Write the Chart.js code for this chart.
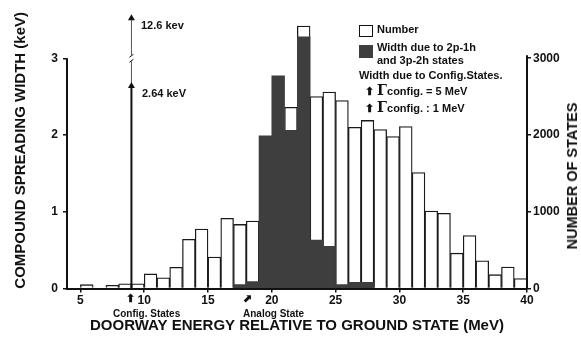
<!DOCTYPE html>
<html>
<head>
  <title>Doorway energy histogram</title>
  <script src="https://cdn.jsdelivr.net/npm/chart.js"></script>
  <style>
    body {
      margin: 0;
      background-color: #ffffff;
    }
    .wrap {
      position: relative;
      width: 581px;
      height: 347px;
      font-family: 'Liberation Sans', Arial, sans-serif;
      color: #111;
    }
    .ann {
      position: absolute;
      font-weight: bold;
      font-size: 11px;
      line-height: 12px;
      white-space: nowrap;
    }
    .small {
      font-size: 10px;
    }
    .box {
      position: absolute;
      width: 14px;
      height: 12px;
      box-sizing: border-box;
    }
    .gamma {
      font-size: 14px;
      font-family: 'DejaVu Serif', serif;
    }
    .rtitle {
      position: absolute;
      font-weight: bold;
      font-size: 14.5px;
      white-space: nowrap;
      transform: translate(-50%, -50%) rotate(-90deg);
    }
  </style>
</head>
<body>
  <div class="wrap">
    <canvas id="myChart" width="581" height="347"></canvas>

    <div class="ann" style="left:141px; top:19px;">12.6 kev</div>
    <div class="ann" style="left:142px; top:87px;">2.64 keV</div>

    <div class="box" style="left:359px; top:25px; border:1px solid #111; background:#fff;"></div>
    <div class="ann" style="left:377px; top:23px;">Number</div>
    <div class="box" style="left:359px; top:45px; height:13px; background:#3e3e3e;"></div>
    <div class="ann" style="left:377px; top:41px;">Width due to 2p-1h</div>
    <div class="ann" style="left:377px; top:54px;">and 3p-2h states</div>
    <div class="ann" style="left:359px; top:69px;">Width due to Config.States.</div>
    <div class="ann" style="left:365px; top:84px;">&#11014; <span class="gamma">&Gamma;</span>config. = 5 MeV</div>
    <div class="ann" style="left:365px; top:101px;">&#11014; <span class="gamma">&Gamma;</span>config. : 1 MeV</div>

    <div class="ann" style="left:126px; top:292px;">&#11014;</div>
    <div class="ann" style="left:243px; top:292px;">&#11016;</div>
    <div class="ann small" style="left:113px; top:308px;">Config. States</div>
    <div class="ann small" style="left:243px; top:308px;">Analog State</div>

    <div class="rtitle" style="left:572px; top:176px;">NUMBER OF STATES</div>
  </div>

  <script>
    // 1 MeV bins, value = lower edge of the bin
    const binStarts = [5, 6, 7, 8, 9, 10, 11, 12, 13, 14, 15, 16, 17, 18, 19, 20, 21, 22,
                       23, 24, 25, 26, 27, 28, 29, 30, 31, 32, 33, 34, 35, 36, 37, 38, 39];

    // number of states per bin (right axis). null = hidden behind the dark bars
    const numberOfStates = [50, null, 40, 60, 60, 190, 140, 275, 640, 775, 410, 915, 835, 880, null, null, 2360, 3420,
                            2500, 2560, 2450, 2100, 2190, 2070, 1980, 2110, 1510, 1010, 980, 460, 690, 360, 180, 280, 130];

    // width due to 2p-1h and 3p-2h states (keV, left axis)
    const widthBins = [17, 18, 19, 20, 21, 22, 23, 24, 25, 26, 27];
    const widthKeV = [0.05, 0.09, 1.99, 2.77, 2.06, 3.28, 0.63, 0.55, 0.05, 0.08, 0.08];

    // config. states arrow (keV); the 12.6 keV one sits above an axis break
    const configEnergy = 9;
    const configLow = [0, 2.64];
    const configHigh = [2.64, 2.96, null, 3.04, 3.52];

    const xTicks = [5, 10, 15, 20, 25, 30, 35, 40];
    const leftTicks = [0, 1, 2, 3];
    const rightTicks = [0, 1000, 2000, 3000];

    const font = 'Liberation Sans';

    // axis lines that stop at the top tick, like the figure
    const axisLines = {
      id: 'axisLines',
      afterDraw(chart) {
        const { ctx, scales: { x, y, y2 } } = chart;
        ctx.save();
        ctx.strokeStyle = '#111';
        ctx.lineWidth = 2;
        ctx.beginPath();
        ctx.moveTo(x.left, y.getPixelForValue(0));
        ctx.lineTo(x.left, y.getPixelForValue(3));
        ctx.moveTo(x.right, y2.getPixelForValue(0));
        ctx.lineTo(x.right, y2.getPixelForValue(3000) - 3);
        ctx.stroke();
        // little break mark on the config arrow
        const bx = x.getPixelForValue(configEnergy);
        const by = y.getPixelForValue(3);
        ctx.lineWidth = 1;
        ctx.beginPath();
        ctx.moveTo(bx - 2, by + 4);
        ctx.lineTo(bx + 2, by + 1);
        ctx.moveTo(bx - 2, by - 1);
        ctx.lineTo(bx + 2, by - 4);
        ctx.stroke();
        ctx.restore();
      }
    };

    new Chart(document.getElementById('myChart').getContext('2d'), {
      type: 'bar',
      data: {
        datasets: [
          {
            type: 'line',
            label: 'Config 1',
            data: configLow.map(v => ({ x: configEnergy, y: v })),
            borderColor: '#111',
            borderWidth: 2,
            pointStyle: 'triangle',
            pointRadius: [0, 4],
            pointBackgroundColor: '#111',
            pointBorderWidth: 0,
            order: 0
          },
          {
            type: 'line',
            label: 'Config 2',
            data: configHigh.map(v => ({ x: configEnergy, y: v })),
            borderColor: '#555',
            borderWidth: 1,
            spanGaps: false,
            pointStyle: 'triangle',
            pointRadius: [0, 0, 0, 0, 4],
            pointBackgroundColor: '#111',
            pointBorderWidth: 0,
            order: 0
          },
          {
            label: 'Width',
            data: widthBins.map((b, i) => ({ x: b + 0.5, y: widthKeV[i] })),
            backgroundColor: '#3e3e3e',
            borderWidth: 0,
            grouped: false,
            barPercentage: 1,
            categoryPercentage: 1,
            yAxisID: 'y',
            order: 1
          },
          {
            label: 'Number',
            data: binStarts.map((b, i) => ({ x: b + 0.5, y: numberOfStates[i] })),
            backgroundColor: '#ffffff',
            borderColor: '#1a1a1a',
            borderWidth: 1.3,
            grouped: false,
            barPercentage: 1,
            categoryPercentage: 1,
            yAxisID: 'y2',
            order: 2
          }
        ]
      },
      options: {
        responsive: false,
        animation: false,
        layout: { padding: { top: 10, left: 0, right: 0, bottom: 0 } },
        plugins: { legend: { display: false }, tooltip: { enabled: false } },
        scales: {
          x: {
            type: 'linear',
            min: 3.95,
            max: 40,
            offset: false,
            afterBuildTicks: s => { s.ticks = xTicks.map(v => ({ value: v })); },
            afterFit: s => { s.height = 58.5; },
            grid: { offset: false, drawOnChartArea: false, tickLength: 4, color: '#111', lineWidth: 1.5 },
            border: { color: '#111', width: 2 },
            ticks: { color: '#111', padding: 1, maxRotation: 0, font: { family: font, size: 12, weight: 'bold' } },
            title: {
              display: true,
              text: 'DOORWAY ENERGY RELATIVE TO GROUND STATE (MeV)',
              color: '#111',
              font: { family: font, size: 15, weight: 'bold' },
              padding: { top: 0, bottom: 12 }
            }
          },
          y: {
            position: 'left',
            min: 0,
            max: 3.6,
            afterBuildTicks: s => { s.ticks = leftTicks.map(v => ({ value: v })); },
            afterFit: s => { s.width = 67; },
            grid: { drawOnChartArea: false, tickLength: 4, color: '#111', lineWidth: 1.5 },
            border: { display: false },
            ticks: { color: '#111', padding: 5, font: { family: font, size: 12, weight: 'bold' } },
            title: {
              display: true,
              text: 'COMPOUND SPREADING WIDTH (keV)',
              color: '#111',
              font: { family: font, size: 15, weight: 'bold' },
              padding: { top: 12, bottom: 0 }
            }
          },
          y2: {
            position: 'right',
            min: 0,
            max: 3600,
            afterBuildTicks: s => { s.ticks = rightTicks.map(v => ({ value: v })); },
            afterFit: s => { s.width = 54; },
            grid: { drawOnChartArea: false, tickLength: 4, color: '#111', lineWidth: 1.5 },
            border: { display: false },
            ticks: {
              color: '#111',
              padding: 2,
              font: { family: font, size: 12, weight: 'bold' },
              callback: v => String(v)
            }
          }
        }
      },
      plugins: [axisLines]
    });
  </script>
</body>
</html>
